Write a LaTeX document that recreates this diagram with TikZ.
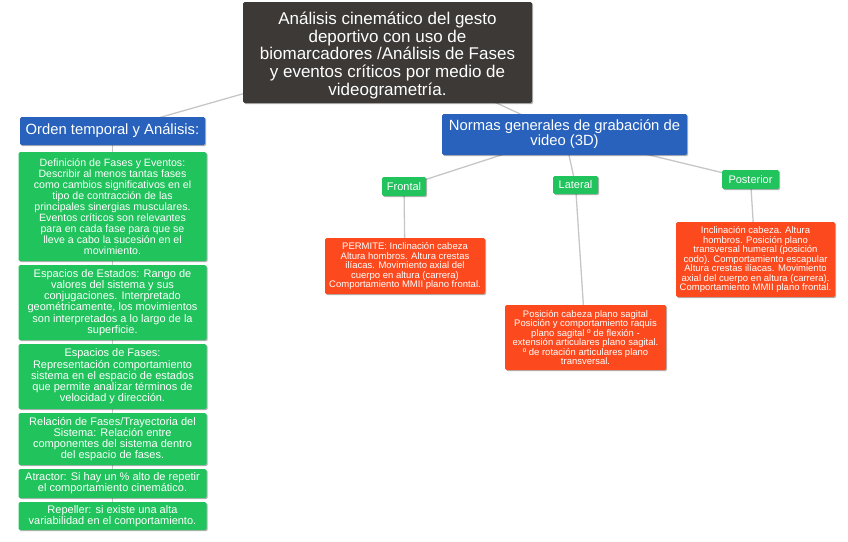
\documentclass[tikz,border=0pt]{standalone}
\usepackage{fontspec}
\setmainfont{Liberation Sans}
\usetikzlibrary{shadows,backgrounds}
\definecolor{maingray}{HTML}{3C3937}
\definecolor{boxblue}{HTML}{2862BC}
\definecolor{boxgreen}{HTML}{20C35C}
\definecolor{boxred}{HTML}{FC4A1E}
\definecolor{linegray}{HTML}{C6C6C6}
\begin{document}
\begin{tikzpicture}[x=1pt,y=-1pt,
  box/.style={rounded corners=1.5pt, text=white, align=center, inner sep=0pt,
    drop shadow={shadow xshift=1.2pt, shadow yshift=-1.2pt, opacity=0.3, fill=black}},
  mainbox/.style={box, fill=maingray},
  maintxt/.style={text=white, align=center, inner sep=0pt, font=\fontsize{17}{17.6}\selectfont},
  bluebox/.style={box, fill=boxblue, font=\fontsize{14.8}{15}\selectfont},
  greenbox/.style={box, fill=boxgreen, minimum width=188pt, font=\fontsize{11}{11.2}\selectfont},
  tagbox/.style={box, fill=boxgreen, font=\fontsize{11}{11}\selectfont},
  redbox/.style={box, fill=boxred, font=\fontsize{9.5}{9.5}\selectfont},
  conn/.style={draw=linegray, line width=1.3pt}]
\useasboundingbox (0,0) rectangle (848,541);

\node[mainbox, minimum width=289pt, minimum height=101pt] (main) at (387.5,52.5) {};
\node[maintxt] (maintext) at (387.5,55.5)
  {Análisis cinemático del gesto\\deportivo con uso de\\biomarcadores /Análisis de Fases\\y eventos críticos por medio de\\videogrametría.};

\node[bluebox, minimum width=185pt, minimum height=28pt] (orden) at (112.5,131)
  {Orden temporal y Análisis:};

\node[greenbox, minimum height=109pt, font=\fontsize{10.6}{11}\selectfont] (g1) at (112.5,206.5)
  {Definición de Fases y Eventos:\\Describir al menos tantas fases\\como cambios significativos en el\\tipo de contracción de las\\principales sinergias musculares.\\Eventos críticos son relevantes\\para en cada fase para que se\\lleve a cabo la sucesión en el\\movimiento.};
\node[greenbox, minimum height=75pt] (g2) at (112.5,302.5)
  {Espacios de Estados: Rango de\\valores del sistema y sus\\conjugaciones. Interpretado\\geométricamente, los movimientos\\son interpretados a lo largo de la\\superficie.};
\node[greenbox, minimum height=65pt] (g3) at (112.5,376.5)
  {Espacios de Fases:\\Representación comportamiento\\sistema en el espacio de estados\\que permite analizar términos de\\velocidad y dirección.};
\node[greenbox, minimum height=52pt] (g4) at (112.5,439)
  {Relación de Fases/Trayectoria del\\Sistema: Relación entre\\componentes del sistema dentro\\del espacio de fases.};
\node[greenbox, minimum height=29pt] (g5) at (112.5,483.5)
  {Atractor: Si hay un \% alto de repetir\\el comportamiento cinemático.};
\node[greenbox, minimum height=28pt] (g6) at (112.5,516)
  {Repeller: si existe una alta\\variabilidad en el comportamiento.};

\node[bluebox, minimum width=245pt, minimum height=41pt] (normas) at (564.5,134.5)
  {Normas generales de grabación de\\video (3D)};

\node[tagbox, minimum width=44pt, minimum height=19pt] (frontal) at (404,186.5) {Frontal};
\node[tagbox, minimum width=45pt, minimum height=18pt] (lateral) at (575.5,185) {Lateral};
\node[tagbox, minimum width=57pt, minimum height=19pt] (posterior) at (750.5,179.5) {Posterior};

\node[redbox, minimum width=160pt, minimum height=56pt] (redF) at (405,266)
  {PERMITE: Inclinación cabeza\\Altura hombros. Altura crestas\\ilíacas. Movimiento axial del\\cuerpo en altura (carrera)\\Comportamiento MMII plano frontal.};
\node[redbox, minimum width=161pt, minimum height=65pt] (redL) at (585.5,337.5)
  {Posición cabeza plano sagital\\Posición y comportamiento raquis\\plano sagital º de flexión -\\extensión articulares plano sagital.\\º de rotación articulares plano\\transversal.};
\node[redbox, minimum width=159pt, minimum height=75pt] (redP) at (755.5,259.5)
  {Inclinación cabeza. Altura\\hombros. Posición plano\\transversal humeral (posición\\codo). Comportamiento escapular\\Altura crestas ilíacas. Movimiento\\axial del cuerpo en altura (carrera).\\Comportamiento MMII plano frontal.};

\begin{scope}[on background layer]
  \draw[conn] (main.center) -- (orden.center);
  \draw[conn] (main.center) -- (normas.center);
  \draw[conn] (orden.center) -- (g1.center);
  \draw[conn] (g1.center) -- (g2.center);
  \draw[conn] (g2.center) -- (g3.center);
  \draw[conn] (g3.center) -- (g4.center);
  \draw[conn] (g4.center) -- (g5.center);
  \draw[conn] (g5.center) -- (g6.center);
  \draw[conn] (normas.center) -- (frontal.center);
  \draw[conn] (normas.center) -- (lateral.center);
  \draw[conn] (normas.center) -- (posterior.center);
  \draw[conn] (frontal.center) -- (redF.center);
  \draw[conn] (lateral.center) -- (redL.center);
  \draw[conn] (posterior.center) -- (redP.center);
\end{scope}
\end{tikzpicture}
\end{document}
